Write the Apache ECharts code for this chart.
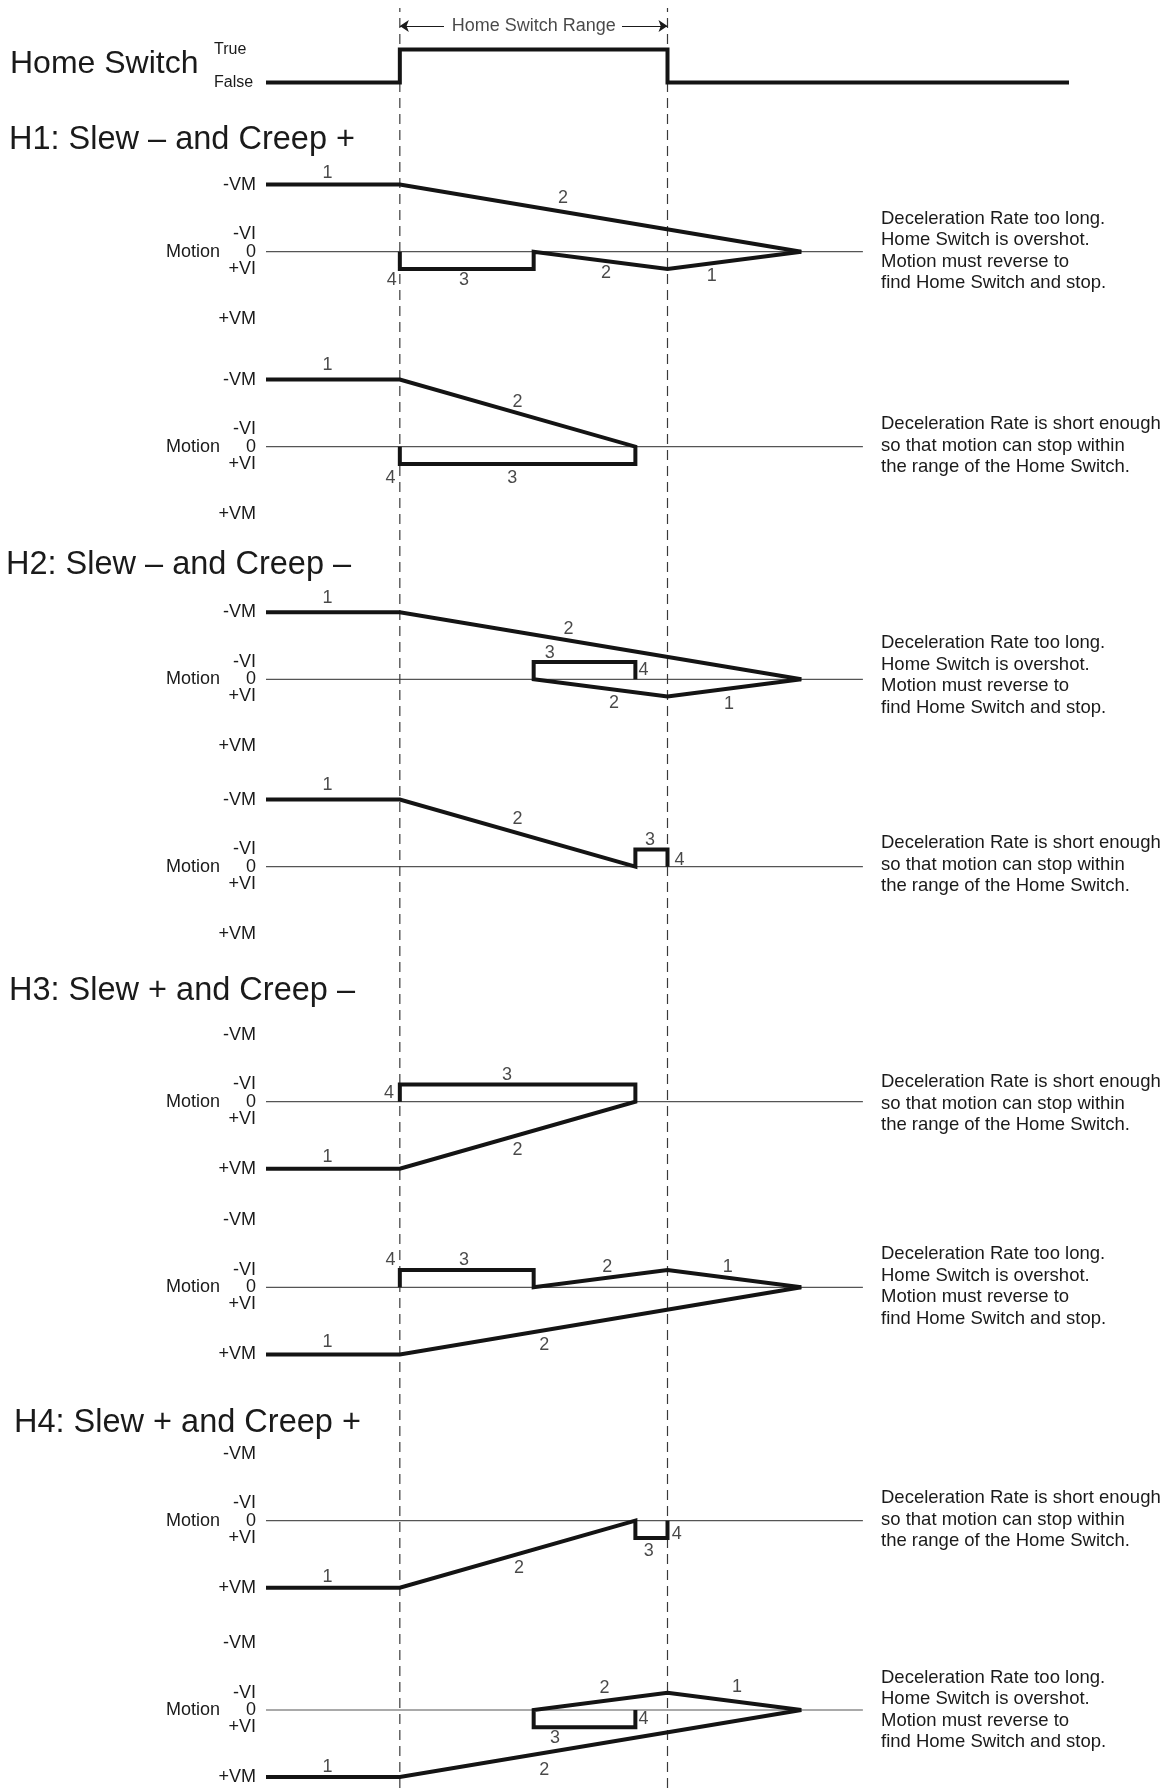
<!DOCTYPE html>
<html><head><meta charset="utf-8">
<script src="https://cdn.jsdelivr.net/npm/echarts@6/dist/echarts.min.js"></script>
<style>html,body{margin:0;padding:0;background:#fff}#c{width:1172px;height:1788px}</style>
</head><body><div id="c"></div>
<script>
// ---------------- DATA (x: position, home switch range = 0..10; y: velocity, VI = 1) ----------------
const VM = 3.9, VI = 1;
const levelValues = [-VM, -VI, 0, VI, VM];
const levelLabels = ['-VM', '-VI', '0', '+VI', '+VM'];
const homeStates = ['False', 'True'];
const homeSwitch = [[-5, 0], [0, 0], [0, 1], [10, 1], [10, 0], [25, 0]];

const h1aSlew  = [[-5, -VM], [0, -VM], [15, 0]];
const h1aCreep = [[15, 0], [10, VI], [5, 0], [5, VI], [0, VI], [0, 0]];
const h1aNums  = [[-2.7, -4.6, '1'], [6.1, -3.1, '2'], [-0.3, 1.65, '4'], [2.4, 1.65, '3'], [7.7, 1.25, '2'], [11.65, 1.4, '1']];

const h1bPath  = [[-5, -VM], [0, -VM], [8.8, 0], [8.8, VI], [0, VI], [0, 0]];
const h1bNums  = [[-2.7, -4.75, '1'], [4.4, -2.6, '2'], [-0.35, 1.8, '4'], [4.2, 1.8, '3']];

const h2aSlew  = [[-5, -VM], [0, -VM], [15, 0]];
const h2aCreep = [[15, 0], [10, VI], [5, 0], [5, -VI], [8.8, -VI], [8.8, 0]];
const h2aNums  = [[-2.7, -4.7, '1'], [6.3, -2.9, '2'], [5.6, -1.5, '3'], [9.1, -0.55, '4'], [8.0, 1.4, '2'], [12.3, 1.45, '1']];

const h2bPath  = [[-5, -VM], [0, -VM], [8.8, 0], [8.8, -VI], [10, -VI], [10, 0]];
const h2bNums  = [[-2.7, -4.75, '1'], [4.4, -2.75, '2'], [9.35, -1.55, '3'], [10.45, -0.4, '4']];

const h3aPath  = [[-5, VM], [0, VM], [8.8, 0], [8.8, -VI], [0, -VI], [0, 0]];
const h3aNums  = [[-2.7, 3.2, '1'], [4.4, 2.8, '2'], [4.0, -1.55, '3'], [-0.4, -0.5, '4']];

const h3bSlew  = [[-5, VM], [0, VM], [15, 0]];
const h3bCreep = [[15, 0], [10, -VI], [5, 0], [5, -VI], [0, -VI], [0, 0]];
const h3bNums  = [[-0.35, -1.6, '4'], [2.4, -1.6, '3'], [7.75, -1.2, '2'], [12.25, -1.2, '1'], [-2.7, 3.2, '1'], [5.4, 3.35, '2']];

const h4aPath  = [[-5, VM], [0, VM], [8.8, 0], [8.8, VI], [10, VI], [10, 0]];
const h4aNums  = [[-2.7, 3.25, '1'], [4.45, 2.75, '2'], [9.3, 1.75, '3'], [10.35, 0.75, '4']];

const h4bSlew  = [[-5, VM], [0, VM], [15, 0]];
const h4bCreep = [[15, 0], [10, -VI], [5, 0], [5, VI], [8.8, VI], [8.8, 0]];
const h4bNums  = [[7.65, -1.25, '2'], [12.6, -1.35, '1'], [9.1, 0.55, '4'], [5.8, 1.65, '3'], [-2.7, 3.3, '1'], [5.4, 3.5, '2']];

const noteLong  = ['Deceleration Rate too long.', 'Home Switch is overshot.', 'Motion must reverse to', 'find Home Switch and stop.'];
const noteShort = ['Deceleration Rate is short enough', 'so that motion can stop within', 'the range of the Home Switch.'];

const sectionTitles = ['H1: Slew \u2013 and Creep +', 'H2: Slew \u2013 and Creep \u2013', 'H3: Slew + and Creep \u2013', 'H4: Slew + and Creep +'];
const rangeLabel = 'Home Switch Range';
const zeroLineEnd = 17.3;

// ---------------- LAYOUT ----------------
const FONT = '"Liberation Sans", Arial, Helvetica, sans-serif';
const INK = '#141414';
const TXT = '#1a1a1a';
const L = 266, R = 103;
const PX = 17.2, YEXT = 4.5;

const panels = [
  { zero: 251.7, paths: [h1aSlew, h1aCreep], nums: h1aNums, note: noteLong, noteOff: -1 },
  { zero: 446.7, paths: [h1bPath], nums: h1bNums, note: noteShort, noteOff: -1 },
  { zero: 679.3, paths: [h2aSlew, h2aCreep], nums: h2aNums, note: noteLong, noteOff: -4 },
  { zero: 866.7, paths: [h2bPath], nums: h2bNums, note: noteShort, noteOff: -2 },
  { zero: 1101.7, paths: [h3aPath], nums: h3aNums, note: noteShort, noteOff: 2 },
  { zero: 1287.3, paths: [h3bSlew, h3bCreep], nums: h3bNums, note: noteLong, noteOff: -1 },
  { zero: 1520.7, paths: [h4aPath], nums: h4aNums, note: noteShort, noteOff: -1 },
  { zero: 1710, paths: [h4bSlew, h4bCreep], nums: h4bNums, note: noteLong, noteOff: 0 }
];
const titlePos = [[9, 140], [6, 565], [9, 991], [14, 1423]];

const grid = [], xAxis = [], yAxis = [], series = [], graphic = [];
const hiddenAxis = { axisLine: { show: false }, axisTick: { show: false }, splitLine: { show: false } };

function numLabels(gi, nums, size) {
  return {
    type: 'scatter', xAxisIndex: gi, yAxisIndex: gi, clip: false, silent: true,
    symbolSize: 1, itemStyle: { color: 'rgba(0,0,0,0)' },
    data: nums.map(n => ({ value: [n[0], n[1]], name: n[2] })),
    label: { show: true, position: 'inside', formatter: '{b}', fontSize: size || 18, fontFamily: FONT, color: TXT },
    z: 5
  };
}

// grid 0 : home switch
grid.push({ left: L, right: R, top: 0, height: 82.5, outerBoundsMode: 'none' });
xAxis.push({ type: 'value', gridIndex: 0, min: -5, max: 25, show: false });
yAxis.push(Object.assign({
  type: 'value', gridIndex: 0, min: 0, max: 2.5,
  axisLabel: { customValues: [0, 1], formatter: v => homeStates[Math.round(v)], align: 'left', margin: 52, fontSize: 16, fontFamily: FONT, color: TXT }
}, hiddenAxis));
series.push({
  type: 'line', xAxisIndex: 0, yAxisIndex: 0, data: homeSwitch, symbol: 'none', clip: false, silent: true,
  lineStyle: { width: 4, color: INK, join: 'miter', cap: 'butt' }, z: 3
});
series.push({
  type: 'line', xAxisIndex: 0, yAxisIndex: 0, data: [], symbol: 'none', silent: true,
  markLine: {
    silent: true, symbol: ['none', 'arrow'], symbolSize: 9, label: { show: false }, animation: false,
    lineStyle: { type: 'solid', width: 1, color: TXT },
    data: [
      [{ coord: [1.65, 1.71] }, { coord: [0, 1.71] }],
      [{ coord: [8.3, 1.71] }, { coord: [10, 1.71] }]
    ]
  }
});
series.push(numLabels(0, [[5, 1.71, rangeLabel]], 18));

// grid 1 : dashed range boundaries
grid.push({ left: L, right: R, top: 8, height: 1780, outerBoundsMode: 'none' });
xAxis.push({ type: 'value', gridIndex: 1, min: -5, max: 25, show: false });
yAxis.push({ type: 'value', gridIndex: 1, min: 0, max: 1, show: false });
[0, 10].forEach(x => series.push({
  type: 'line', xAxisIndex: 1, yAxisIndex: 1, data: [[x, 0], [x, 1]], symbol: 'none', silent: true,
  lineStyle: { width: 1.2, color: '#3a3a3a', type: [10, 6] }, z: 2
}));

// panels
panels.forEach((p, i) => {
  const gi = i + 2;
  grid.push({ left: L, right: R, top: p.zero - YEXT * PX, height: 2 * YEXT * PX, outerBoundsMode: 'none' });
  xAxis.push({ type: 'value', gridIndex: gi, min: -5, max: 25, show: false });
  yAxis.push(Object.assign({
    type: 'value', gridIndex: gi, min: -YEXT, max: YEXT, inverse: true,
    name: 'Motion', nameLocation: 'middle', nameGap: 46, nameRotate: 0, nameMoveOverlap: false,
    nameTextStyle: { align: 'right', verticalAlign: 'middle', fontSize: 18, fontFamily: FONT, color: TXT },
    axisLabel: {
      customValues: levelValues, margin: 10, fontSize: 18, fontFamily: FONT, color: TXT,
      formatter: v => { let k = 0; levelValues.forEach((lv, j) => { if (Math.abs(lv - v) < 1e-6) k = j; }); return levelLabels[k]; }
    }
  }, hiddenAxis));
  series.push({
    type: 'line', xAxisIndex: gi, yAxisIndex: gi, data: [[-5, 0], [zeroLineEnd, 0]], symbol: 'none', silent: true,
    lineStyle: { width: 1.2, color: '#555' }, z: 1
  });
  p.paths.forEach(path => series.push({
    type: 'line', xAxisIndex: gi, yAxisIndex: gi, data: path, symbol: 'none', clip: false, silent: true,
    lineStyle: { width: 4, color: INK, join: 'miter', cap: 'butt' }, z: 3
  }));
  series.push(numLabels(gi, p.nums, 18));
  graphic.push({
    type: 'text', x: 881, y: p.zero + p.noteOff, silent: true,
    style: { text: p.note.join('\n'), font: '18.5px ' + FONT, lineHeight: 21.5, fill: TXT, align: 'left', verticalAlign: 'middle' }
  });
});

graphic.push({ type: 'text', x: 10, y: 64, silent: true, style: { text: 'Home Switch', font: '32px ' + FONT, fill: TXT, align: 'left', verticalAlign: 'middle' } });
sectionTitles.forEach((t, i) => graphic.push({
  type: 'text', x: titlePos[i][0], y: titlePos[i][1], silent: true,
  style: { text: t, font: '32.5px ' + FONT, fill: TXT, align: 'left', verticalAlign: 'middle' }
}));

const chart = echarts.init(document.getElementById('c'), null, { renderer: 'canvas' });
chart.setOption({
  backgroundColor: '#fff', animation: false,
  grid, xAxis, yAxis, series, graphic
});
</script></body></html>
